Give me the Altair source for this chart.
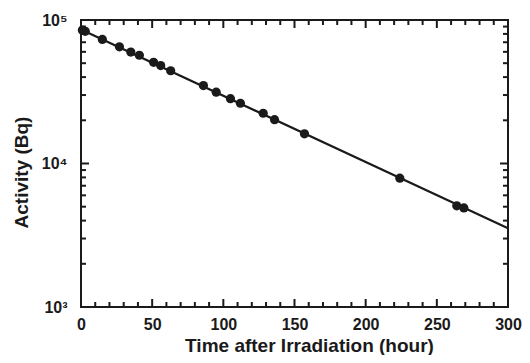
import altair as alt
import pandas as pd

# Measured activity after irradiation
time_h = [1, 3, 15, 27, 35, 41, 51, 56, 63, 86, 95, 105, 112, 128, 136, 157, 224, 264, 269]
activity_bq = [85000, 83400, 73200, 65000, 59800, 56800, 50700, 48100, 44300,
               34900, 31400, 28300, 26300, 22400, 20200, 16100, 7900, 5070, 4900]

# Fitted decay line end points
fit_time_h = [0, 300]
fit_activity_bq = [85800, 3540]

# Tick values
x_major = [0, 50, 100, 150, 200, 250, 300]
x_minor = [10, 20, 30, 40, 60, 70, 80, 90, 110, 120, 130, 140, 160, 170, 180, 190,
           210, 220, 230, 240, 260, 270, 280, 290]
y_major = [1000, 10000, 100000]
y_minor = [2000, 3000, 4000, 5000, 6000, 7000, 8000, 9000,
           20000, 30000, 40000, 50000, 60000, 70000, 80000, 90000]

pts = pd.DataFrame({"t": time_h, "a": activity_bq})
fit = pd.DataFrame({"t": fit_time_h, "a": fit_activity_bq})

FONT = "Liberation Sans"
INK = "#1a1a1a"
W, H = 427, 287
MAJ, MIN = 8, 5

xscale = alt.Scale(domain=[0, 300], nice=False, zero=False)
yscale = alt.Scale(type="log", domain=[1000, 100000], nice=False)

x_axis = alt.Axis(
    values=x_major, ticks=False, tickSize=0, domain=False, grid=False,
    labelFont=FONT, labelFontSize=16, labelFontWeight="bold", labelColor=INK,
    labelPadding=9, labelFlush=False,
    title="Time after Irradiation (hour)", titleFont=FONT, titleFontSize=19,
    titleFontWeight="bold", titleColor=INK, titlePadding=4, titleX=228,
)
y_axis = alt.Axis(
    values=y_major, ticks=False, tickSize=0, domain=False, grid=False,
    labelFont=FONT, labelFontSize=16, labelFontWeight="bold", labelColor=INK,
    labelPadding=14, labelFlush=False,
    labelExpr="datum.value == 1000 ? '10\u00b3' : datum.value == 10000 ? '10\u2074' : '10\u2075'",
    title="Activity (Bq)", titleFont=FONT, titleFontSize=19, titleFontWeight="bold",
    titleColor=INK, titlePadding=10, titleY=152,
)

line = alt.Chart(fit).mark_line(color=INK, strokeWidth=2.2).encode(
    x=alt.X("t:Q", scale=xscale, axis=x_axis),
    y=alt.Y("a:Q", scale=yscale, axis=y_axis),
)

points = alt.Chart(pts).mark_circle(color=INK, size=85, opacity=1).encode(
    x=alt.X("t:Q", scale=xscale),
    y=alt.Y("a:Q", scale=yscale),
)

# Inward ticks on all four sides, placed through the shared scales
def xticks(vals, y0, y1):
    return alt.Chart(pd.DataFrame({"v": vals})).mark_rule(
        color=INK, strokeWidth=2, opacity=1
    ).encode(x=alt.X("v:Q", scale=xscale), y=alt.value(y0), y2=alt.value(y1))

def yticks(vals, x0, x1):
    return alt.Chart(pd.DataFrame({"v": vals})).mark_rule(
        color=INK, strokeWidth=2, opacity=1
    ).encode(y=alt.Y("v:Q", scale=yscale), x=alt.value(x0), x2=alt.value(x1))

tick_layers = [
    xticks(x_major, H, H - MAJ), xticks(x_minor, H, H - MIN),
    xticks(x_major, 0, MAJ), xticks(x_minor, 0, MIN),
    yticks(y_major, 0, MAJ), yticks(y_minor, 0, MIN),
    yticks(y_major, W, W - MAJ), yticks(y_minor, W, W - MIN),
]

chart = alt.layer(line, points, *tick_layers).properties(
    width=W, height=H,
    autosize=alt.AutoSizeParams(type="none"),
    padding={"left": 73, "top": 12, "right": 14, "bottom": 48},
    background="white",
).configure_view(stroke=INK, strokeWidth=2)

chart.save("out.html", embed_options={"renderer": "svg", "actions": False})
